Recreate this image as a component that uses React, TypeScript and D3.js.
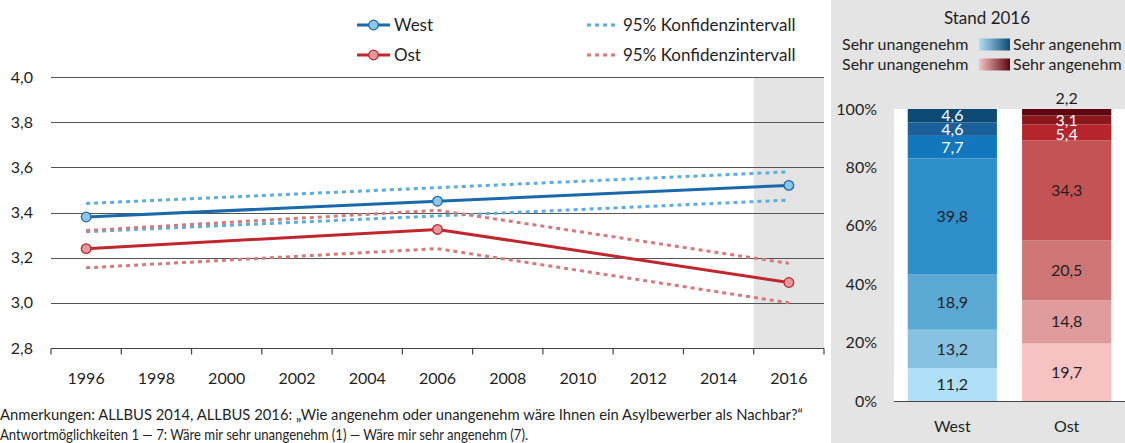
import { useEffect, useRef } from "react";
import * as d3 from "d3";

// Linke Grafik: Mittelwerte und 95%-Konfidenzintervalle
const years = ["1996", "1998", "2000", "2002", "2004", "2006", "2008", "2010", "2012", "2014", "2016"];
const surveyYears = ["1996", "2006", "2016"];
const westMean = [3.38, 3.45, 3.52];
const westUpper = [3.44, 3.51, 3.58];
const westLower = [3.315, 3.385, 3.455];
const ostMean = [3.24, 3.325, 3.09];
const ostUpper = [3.32, 3.41, 3.175];
const ostLower = [3.155, 3.24, 3.0];
const yTicks = [2.8, 3.0, 3.2, 3.4, 3.6, 3.8, 4.0];

// Rechte Grafik: Verteilung 2016 (von sehr unangenehm bis sehr angenehm)
const regions = ["West", "Ost"];
const westShares = [11.2, 13.2, 18.9, 39.8, 7.7, 4.6, 4.6];
const ostShares = [19.7, 14.8, 20.5, 34.3, 5.4, 3.1, 2.2];
const pctTicks = [0, 20, 40, 60, 80, 100];

const westColors = ["#b0e0f8", "#88c2e2", "#5ca9d5", "#2e8fca", "#1277bd", "#1a609a", "#0d4a73"];
const ostColors = ["#f6c3c2", "#e09c9c", "#d07575", "#c45356", "#b5252b", "#8b161c", "#5d0510"];

const FONT = "Lato, 'Noto Sans', sans-serif";
const TEXT = "#1f1f1f";

export default function App() {
  const svgRef = useRef<SVGSVGElement>(null);

  useEffect(() => {
    const width = 1125;
    const height = 443;
    const svg = d3.select(svgRef.current).attr("width", width).attr("height", height);
    svg.selectAll("*").remove();
    svg.style("font-family", FONT);

    // ---------- linke Grafik ----------
    const x = d3.scaleBand().domain(years).range([51, 824]);
    const y = d3.scaleLinear().domain([2.8, 4.0]).range([348, 77]);
    const cx = (yr) => x(yr) + x.bandwidth() / 2;

    svg
      .append("rect")
      .attr("x", x("2016"))
      .attr("y", y(4.0))
      .attr("width", x.bandwidth())
      .attr("height", y(2.8) - y(4.0))
      .attr("fill", "#e3e4e3");

    svg
      .append("g")
      .selectAll("line")
      .data(yTicks.filter((t) => t > 2.8))
      .enter()
      .append("line")
      .attr("x1", 51)
      .attr("x2", 824)
      .attr("y1", (d) => Math.round(y(d)) + 0.5)
      .attr("y2", (d) => Math.round(y(d)) + 0.5)
      .attr("stroke", "#555")
      .attr("stroke-width", 1.2);

    svg
      .append("g")
      .selectAll("text")
      .data(yTicks)
      .enter()
      .append("text")
      .attr("x", 33)
      .attr("y", (d) => y(d))
      .attr("dy", "0.35em")
      .attr("text-anchor", "end")
      .attr("font-size", 16)
      .attr("fill", TEXT)
      .text((d) => d3.format(".1f")(d).replace(".", ","));

    // x-Achse mit Strichen an den Bandgrenzen
    const axisY = Math.round(y(2.8)) + 0.5;
    const xAxis = svg.append("g");
    xAxis
      .append("line")
      .attr("x1", 51)
      .attr("x2", 824)
      .attr("y1", axisY)
      .attr("y2", axisY)
      .attr("stroke", "#444")
      .attr("stroke-width", 1.2);
    xAxis
      .selectAll(".tick")
      .data([...years.map((d) => x(d)), x.range()[1]])
      .enter()
      .append("line")
      .attr("x1", (d) => d)
      .attr("x2", (d) => d)
      .attr("y1", axisY)
      .attr("y2", axisY + 6)
      .attr("stroke", "#444")
      .attr("stroke-width", 1.2);
    xAxis
      .selectAll("text")
      .data(years)
      .enter()
      .append("text")
      .attr("x", (d) => cx(d))
      .attr("y", 378)
      .attr("dy", "0.35em")
      .attr("text-anchor", "middle")
      .attr("font-size", 16)
      .attr("fill", TEXT)
      .text((d) => d);

    const line = d3
      .line()
      .x((d) => cx(d[0]))
      .y((d) => y(d[1]));
    const pairs = (vals) => surveyYears.map((yr, i) => [yr, vals[i]]);

    const ciSeries = [
      { vals: westUpper, color: "#5aaedc" },
      { vals: westLower, color: "#5aaedc" },
      { vals: ostUpper, color: "#d57a7c" },
      { vals: ostLower, color: "#d57a7c" },
    ];
    ciSeries.forEach((s) => {
      svg
        .append("path")
        .attr("d", line(pairs(s.vals)))
        .attr("fill", "none")
        .attr("stroke", s.color)
        .attr("stroke-width", 3)
        .attr("stroke-dasharray", "4 4");
    });

    const meanSeries = [
      { vals: westMean, color: "#1a69ab", fill: "#8ec6e8" },
      { vals: ostMean, color: "#c0272d", fill: "#e49a9c" },
    ];
    meanSeries.forEach((s) => {
      svg
        .append("path")
        .attr("d", line(pairs(s.vals)))
        .attr("fill", "none")
        .attr("stroke", s.color)
        .attr("stroke-width", 3);
      svg
        .append("g")
        .selectAll("circle")
        .data(pairs(s.vals))
        .enter()
        .append("circle")
        .attr("cx", (d) => cx(d[0]))
        .attr("cy", (d) => y(d[1]))
        .attr("r", 4.8)
        .attr("fill", s.fill)
        .attr("stroke", s.color)
        .attr("stroke-width", 1.3);
    });

    // Legende oben
    const legend = svg.append("g").attr("font-size", 17).attr("fill", TEXT);
    meanSeries.forEach((s, i) => {
      const ly = 25 + i * 30;
      legend
        .append("line")
        .attr("x1", 357)
        .attr("x2", 390)
        .attr("y1", ly)
        .attr("y2", ly)
        .attr("stroke", s.color)
        .attr("stroke-width", 3);
      legend
        .append("circle")
        .attr("cx", 373.5)
        .attr("cy", ly)
        .attr("r", 4.8)
        .attr("fill", s.fill)
        .attr("stroke", s.color)
        .attr("stroke-width", 1.3);
      legend
        .append("text")
        .attr("x", 394)
        .attr("y", ly)
        .attr("dy", "0.35em")
        .text(regions[i]);
      legend
        .append("line")
        .attr("x1", 587)
        .attr("x2", 619)
        .attr("y1", ly)
        .attr("y2", ly)
        .attr("stroke", ciSeries[i * 2].color)
        .attr("stroke-width", 3)
        .attr("stroke-dasharray", "4 4");
      legend
        .append("text")
        .attr("x", 623)
        .attr("y", ly)
        .attr("dy", "0.35em")
        .text("95% Konfidenzintervall");
    });

    // Anmerkungen
    const notes = svg.append("g").attr("font-size", 15).attr("fill", TEXT);
    notes
      .append("text")
      .attr("x", 0)
      .attr("y", 420)
      .attr("textLength", 803)
      .attr("lengthAdjust", "spacingAndGlyphs")
      .text("Anmerkungen: ALLBUS 2014, ALLBUS 2016: \u201eWie angenehm oder unangenehm w\u00e4re Ihnen ein Asylbewerber als Nachbar?\u201c");
    notes
      .append("text")
      .attr("x", 0)
      .attr("y", 440)
      .attr("textLength", 528)
      .attr("lengthAdjust", "spacingAndGlyphs")
      .text("Antwortm\u00f6glichkeiten 1 \u2014 7: W\u00e4re mir sehr unangenehm (1) \u2014 W\u00e4re mir sehr angenehm (7).");

    // ---------- rechte Grafik ----------
    svg
      .append("rect")
      .attr("x", 831)
      .attr("y", 0)
      .attr("width", width - 831)
      .attr("height", height)
      .attr("fill", "#e3e4e3");

    const yp = d3.scaleLinear().domain([0, 100]).range([401, 109]);
    const xb = d3.scaleBand().domain(regions).range([894, 1125]).paddingInner(0.22).paddingOuter(0.12);

    svg
      .append("rect")
      .attr("x", 894)
      .attr("y", yp(100))
      .attr("width", width - 894)
      .attr("height", yp(0) - yp(100))
      .attr("fill", "#ffffff");

    const defs = svg.append("defs");
    [westColors, ostColors].forEach((cols, i) => {
      const g = defs.append("linearGradient").attr("id", "grad" + i);
      g.append("stop").attr("offset", "0%").attr("stop-color", cols[0]);
      g.append("stop").attr("offset", "100%").attr("stop-color", cols[cols.length - 1]);
    });

    svg
      .append("text")
      .attr("x", 987)
      .attr("y", 18)
      .attr("dy", "0.35em")
      .attr("text-anchor", "middle")
      .attr("font-size", 17)
      .attr("fill", TEXT)
      .text("Stand 2016");

    [0, 1].forEach((i) => {
      const ly = 44 + i * 20;
      svg
        .append("text")
        .attr("x", 842)
        .attr("y", ly)
        .attr("dy", "0.35em")
        .attr("font-size", 16)
        .attr("fill", TEXT)
        .text("Sehr unangenehm");
      svg
        .append("rect")
        .attr("x", 979)
        .attr("y", ly - 5.5)
        .attr("width", 31)
        .attr("height", 12)
        .attr("fill", `url(#grad${i})`);
      svg
        .append("text")
        .attr("x", 1013)
        .attr("y", ly)
        .attr("dy", "0.35em")
        .attr("font-size", 16)
        .attr("fill", TEXT)
        .text("Sehr angenehm");
    });

    svg
      .append("g")
      .selectAll("text")
      .data(pctTicks)
      .enter()
      .append("text")
      .attr("x", 877)
      .attr("y", (d) => yp(d))
      .attr("dy", "0.35em")
      .attr("text-anchor", "end")
      .attr("font-size", 16)
      .attr("fill", TEXT)
      .text((d) => d + "%");

    const stacks = [
      { region: "West", shares: westShares, colors: westColors },
      { region: "Ost", shares: ostShares, colors: ostColors },
    ];
    stacks.forEach((s) => {
      const cum = d3.cumsum(s.shares);
      const segs = s.shares.map((v, i) => ({ v, i, y0: cum[i] - v, y1: cum[i] }));
      const g = svg.append("g");
      g.selectAll("rect")
        .data(segs)
        .enter()
        .append("rect")
        .attr("x", xb(s.region))
        .attr("width", xb.bandwidth())
        .attr("y", (d) => yp(d.y1))
        .attr("height", (d) => yp(d.y0) - yp(d.y1))
        .attr("fill", (d) => s.colors[d.i]);
      g.selectAll("text")
        .data(segs)
        .enter()
        .append("text")
        .attr("x", xb(s.region) + xb.bandwidth() / 2)
        .attr("y", (d) => (d.v < 3 ? yp(100) - 11 : yp((d.y0 + d.y1) / 2) + (d.i === 4 && s.region === "Ost" ? 2 : 0)))
        .attr("dy", "0.35em")
        .attr("text-anchor", "middle")
        .attr("font-size", 16)
        .attr("fill", (d) => (d.i >= 4 && d.v >= 3 ? "#ffffff" : TEXT))
        .text((d) => d3.format(".1f")(d.v).replace(".", ","));
      svg
        .append("text")
        .attr("x", xb(s.region) + xb.bandwidth() / 2)
        .attr("y", 426)
        .attr("dy", "0.35em")
        .attr("text-anchor", "middle")
        .attr("font-size", 16)
        .attr("fill", TEXT)
        .text(s.region);
    });

    svg
      .append("line")
      .attr("x1", 894)
      .attr("x2", width)
      .attr("y1", Math.round(yp(0)) + 0.5)
      .attr("y2", Math.round(yp(0)) + 0.5)
      .attr("stroke", "#444")
      .attr("stroke-width", 1.2);
  }, []);

  return (
    <svg
      ref={svgRef}
      style={{ position: "absolute", left: 0, top: 0, display: "block", background: "#fff" }}
    ></svg>
  );
}
